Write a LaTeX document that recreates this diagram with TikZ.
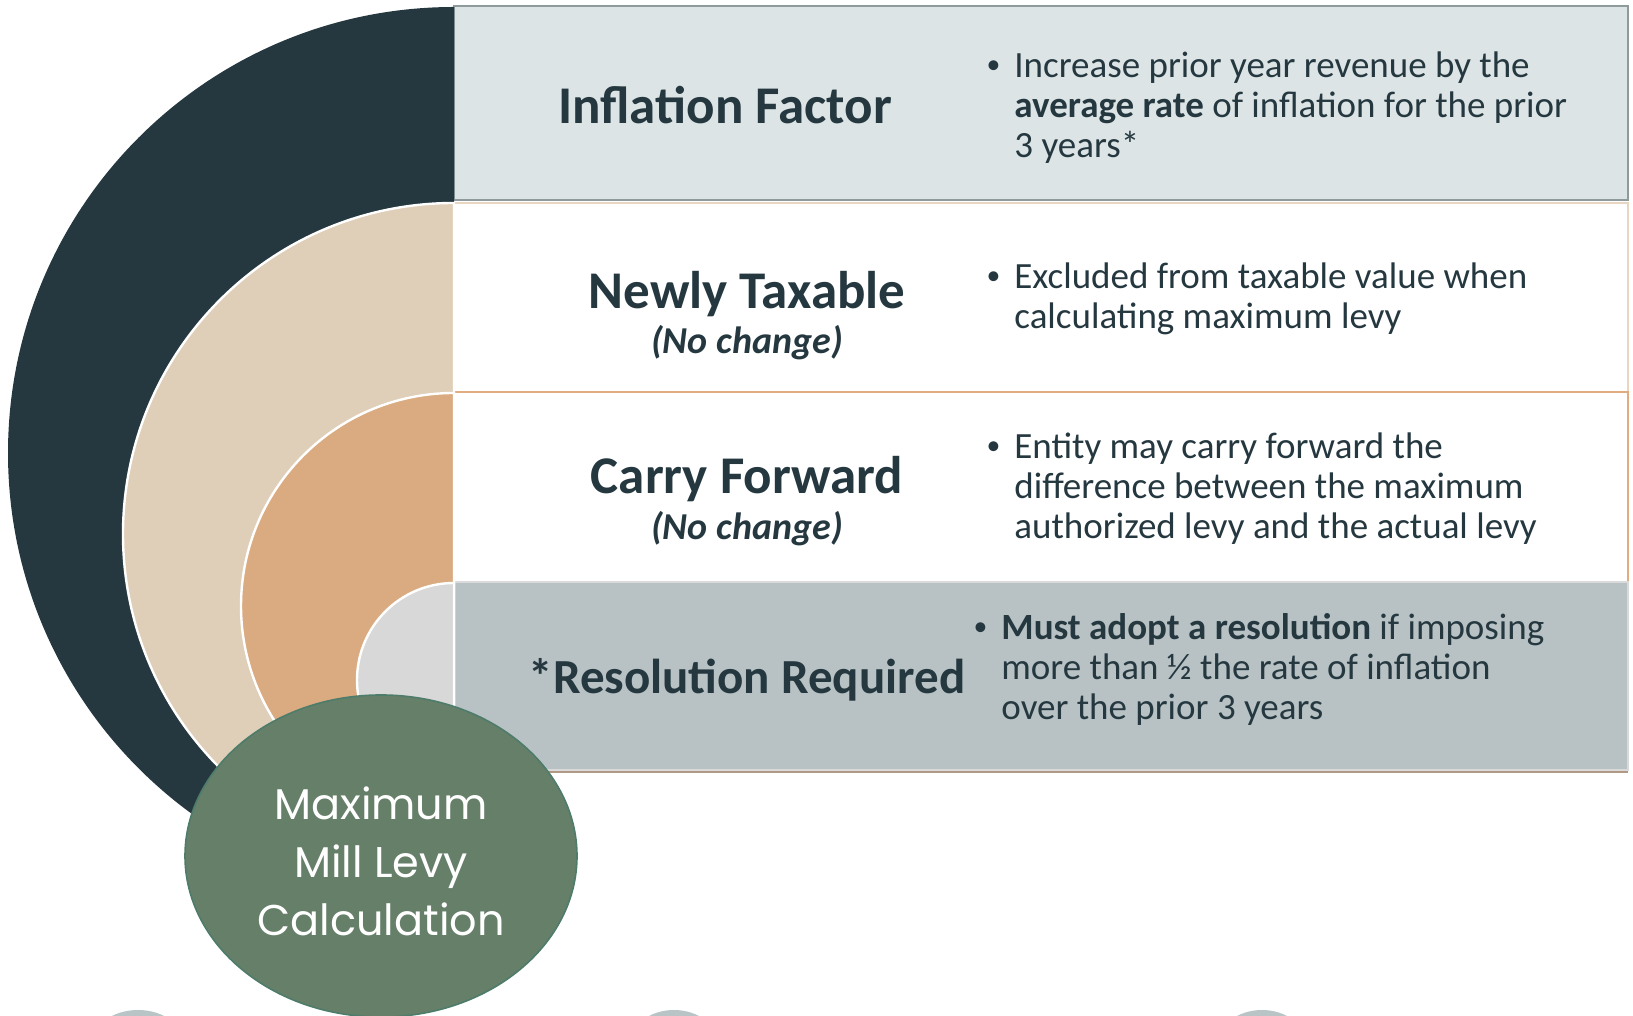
\documentclass[tikz,border=0pt]{standalone}
\usepackage{fontspec}
\setmainfont{Carlito}
\newfontfamily\roundfont{Poppins}
\usetikzlibrary{shapes.geometric}

\definecolor{slate}{HTML}{253840}
\definecolor{sand}{HTML}{DFCEB8}
\definecolor{copper}{HTML}{DAAB80}
\definecolor{mist}{HTML}{D8D8D8}
\definecolor{sage}{HTML}{667F69}
\definecolor{sageline}{HTML}{4E7C6A}
\definecolor{rowonefill}{HTML}{DCE4E5}
\definecolor{rowoneline}{HTML}{8E9A9C}
\definecolor{rowtwoline}{HTML}{E8D6C2}
\definecolor{rowthreeline}{HTML}{E0AC80}
\definecolor{rowfourfill}{HTML}{B8C2C4}
\definecolor{rowfourline}{HTML}{DADADA}
\definecolor{rowfourshadow}{HTML}{B09A86}
\definecolor{ink}{HTML}{253840}
\definecolor{bump}{HTML}{B8C4C6}

\tikzset{
  rowbox/.style={line width=1pt},
  halfdisc/.style={draw=white, line width=1.2pt},
  heading/.style={font=\fontsize{26.5}{30}\selectfont\bfseries, text=ink, inner sep=0pt, anchor=base},
  subheading/.style={font=\fontsize{19}{22}\selectfont\bfseries\itshape, text=ink, inner sep=0pt, anchor=base},
  bodytext/.style={font=\fontsize{18.5}{20}\selectfont, text=ink, inner sep=0pt, anchor=base west},
  hubtext/.style={font=\roundfont\fontsize{21.5}{29}\selectfont, text=white, inner sep=0pt, anchor=base},
}

\newcommand{\bulletline}[1]{\llap{\raisebox{0.12em}{\scalebox{0.75}{\textbullet}}\hskip 7pt}#1}

\begin{document}
\begin{tikzpicture}[x=0.5pt,y=0.5pt]
\useasboundingbox (0,0) rectangle (1633,1016);
\clip (0,0) rectangle (1633,1016);

% table rows
\draw[rowbox, draw=rowtwoline, fill=white] (454,813) rectangle (1628,624);
\draw[rowbox, draw=rowoneline, fill=rowonefill] (454,1010) rectangle (1628,816);
\draw[rowbox, draw=rowthreeline, fill=white] (454,624) rectangle (1628,434);
\draw[line width=1pt, draw=rowfourshadow] (454,244) -- (1628,244);
\draw[rowbox, draw=rowfourline, fill=rowfourfill] (454,434) rectangle (1628,246);

% nested half discs
\fill[slate] (454,1009) arc[start angle=90, end angle=270, radius=223pt] -- cycle;
\filldraw[halfdisc, fill=sand] (454,813) arc[start angle=90, end angle=270, radius=165.5pt] -- cycle;
\filldraw[halfdisc, fill=copper] (454,623) arc[start angle=90, end angle=270, radius=106.5pt] -- cycle;
\filldraw[halfdisc, fill=mist] (454,433) arc[start angle=90, end angle=270, radius=48.5pt] -- cycle;

% central hub
\node[ellipse, draw=sageline, fill=sage, line width=0.8pt,
      minimum width=196pt, minimum height=161pt, inner sep=0pt] (hub) at (381,160) {};
\node[hubtext] (hublabel) at (381,196) {\begin{tabular}[t]{@{}c@{}}Maximum\\Mill Levy\\Calculation\end{tabular}};

% partial shapes along the lower edge
\fill[bump] (138,-28) ellipse [x radius=23pt, y radius=17pt];
\fill[bump] (674,-28) ellipse [x radius=22pt, y radius=17pt];
\fill[bump] (1262,-28) ellipse [x radius=22pt, y radius=17pt];

% row headings
\node[heading] (h1) at (725,892) {Inflation Factor};
\node[heading] (h2) at (747,707) {Newly Taxable};
\node[subheading] (s2) at (747,662) {(No change)};
\node[heading] (h3) at (747,522) {Carry Forward};
\node[subheading] (s3) at (747,476) {(No change)};
\node[heading, font=\fontsize{24.5}{28}\selectfont\bfseries] (h4) at (747,322) {*Resolution Required};

% row descriptions
\node[bodytext] (d1) at (1014,938) {\begin{tabular}[t]{@{}l@{}}
  \bulletline{Increase prior year revenue by the}\\
  \textbf{average rate} of inflation for the prior\\
  3 years*\end{tabular}};
\node[bodytext] (d2) at (1014,727) {\begin{tabular}[t]{@{}l@{}}
  \bulletline{Excluded from taxable value when}\\
  calculating maximum levy\end{tabular}};
\node[bodytext] (d3) at (1014,557) {\begin{tabular}[t]{@{}l@{}}
  \bulletline{Entity may carry forward the}\\
  difference between the maximum\\
  authorized levy and the actual levy\end{tabular}};
\node[bodytext] (d4) at (1001,376) {\begin{tabular}[t]{@{}l@{}}
  \bulletline{\textbf{Must adopt a resolution} if imposing}\\
  more than ½ the rate of inflation\\
  over the prior 3 years\end{tabular}};
\end{tikzpicture}
\end{document}
